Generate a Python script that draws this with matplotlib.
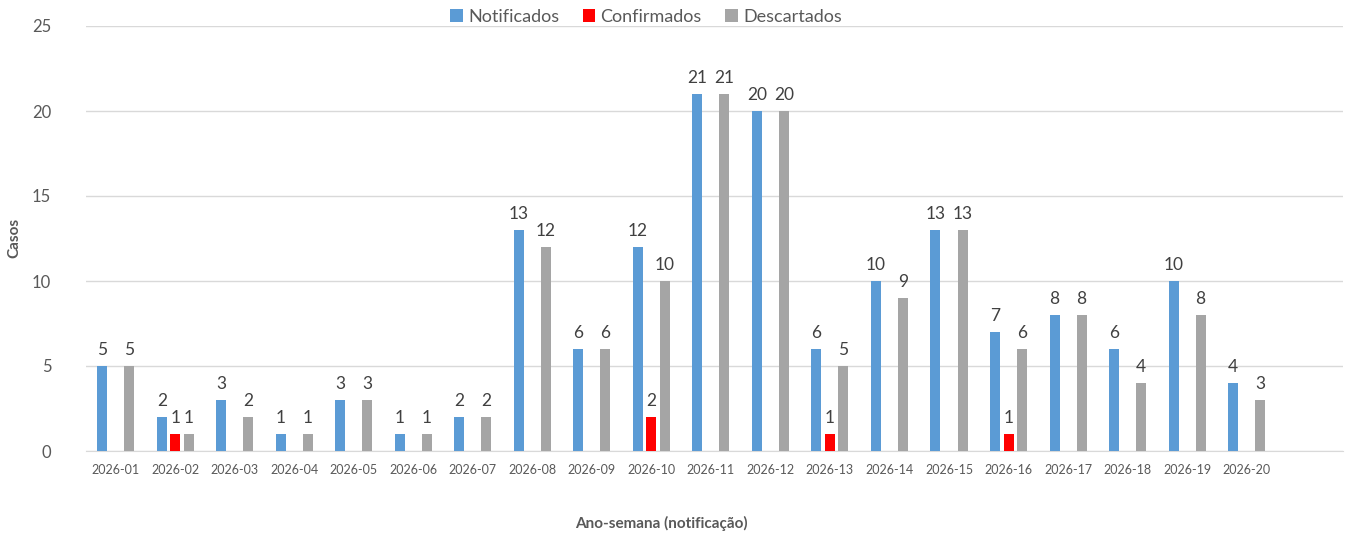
import matplotlib
matplotlib.use("Agg")
import matplotlib.pyplot as plt
import numpy as np

categories = ["2026-01","2026-02","2026-03","2026-04","2026-05","2026-06","2026-07","2026-08","2026-09","2026-10",
              "2026-11","2026-12","2026-13","2026-14","2026-15","2026-16","2026-17","2026-18","2026-19","2026-20"]
notificados = [5,2,3,1,3,1,2,13,6,12,21,20,6,10,13,7,8,6,10,4]
confirmados = [0,1,0,0,0,0,0,0,0,2,0,0,1,0,0,1,0,0,0,0]
descartados = [5,1,2,1,3,1,2,12,6,10,21,20,5,9,13,6,8,4,8,3]

plt.rcParams['font.family'] = ['Lato', 'DejaVu Sans']
txt = '#595959'
W, H = 1346, 535
fig = plt.figure(figsize=(W/100, H/100), dpi=100)
ax = fig.add_axes([86/W, 1-451/H, (1343-86)/W, (451-26)/H])

x = np.arange(len(categories))
w = 0.168
off = 0.227
series = [(notificados, '#5B9BD5', 'Notificados', -off),
          (confirmados, '#FF0000', 'Confirmados', 0),
          (descartados, '#A5A5A5', 'Descartados', off)]
handles = []
for vals, col, lab, o in series:
    bars = ax.bar(x + o, vals, w, color=col, label=lab, zorder=3)
    handles.append(bars)
    for xi, v in zip(x + o, vals):
        if v > 0:
            ax.text(xi, v + 0.45, str(v), ha='center', va='bottom', fontsize=12.5, color='#404040')

ax.set_xlim(-0.5, 20.62)
ax.set_ylim(0, 25)
ax.set_yticks([0, 5, 10, 15, 20, 25])
ax.set_xticks(x)
ax.set_xticklabels(categories, fontsize=9, color=txt)
ax.tick_params(axis='y', labelsize=12, colors=txt, length=0, pad=25)
ax.tick_params(axis='x', length=0, pad=9)
ax.grid(axis='y', color='#D9D9D9', linewidth=1, zorder=0)
for s in ['top', 'right', 'left']:
    ax.spines[s].set_visible(False)
ax.spines['bottom'].set_color('#D9D9D9')

fig.text(661/W, 1-523/H, 'Ano-semana (notificação)', fontsize=11, fontweight='bold',
         color=txt, ha='center', va='center')
fig.text(14/W, 1-238/H, 'Casos', fontsize=11, fontweight='bold', color=txt,
         ha='center', va='center', rotation=90)

leg = fig.legend(handles=handles, loc='center', bbox_to_anchor=(646/W, 1-17/H), ncol=3, frameon=False,
                 fontsize=13, handlelength=0.7, handleheight=0.7, handletextpad=0.3,
                 columnspacing=1.3, borderpad=0)
for t in leg.get_texts():
    t.set_color(txt)

fig.savefig('out.png', dpi=100)
